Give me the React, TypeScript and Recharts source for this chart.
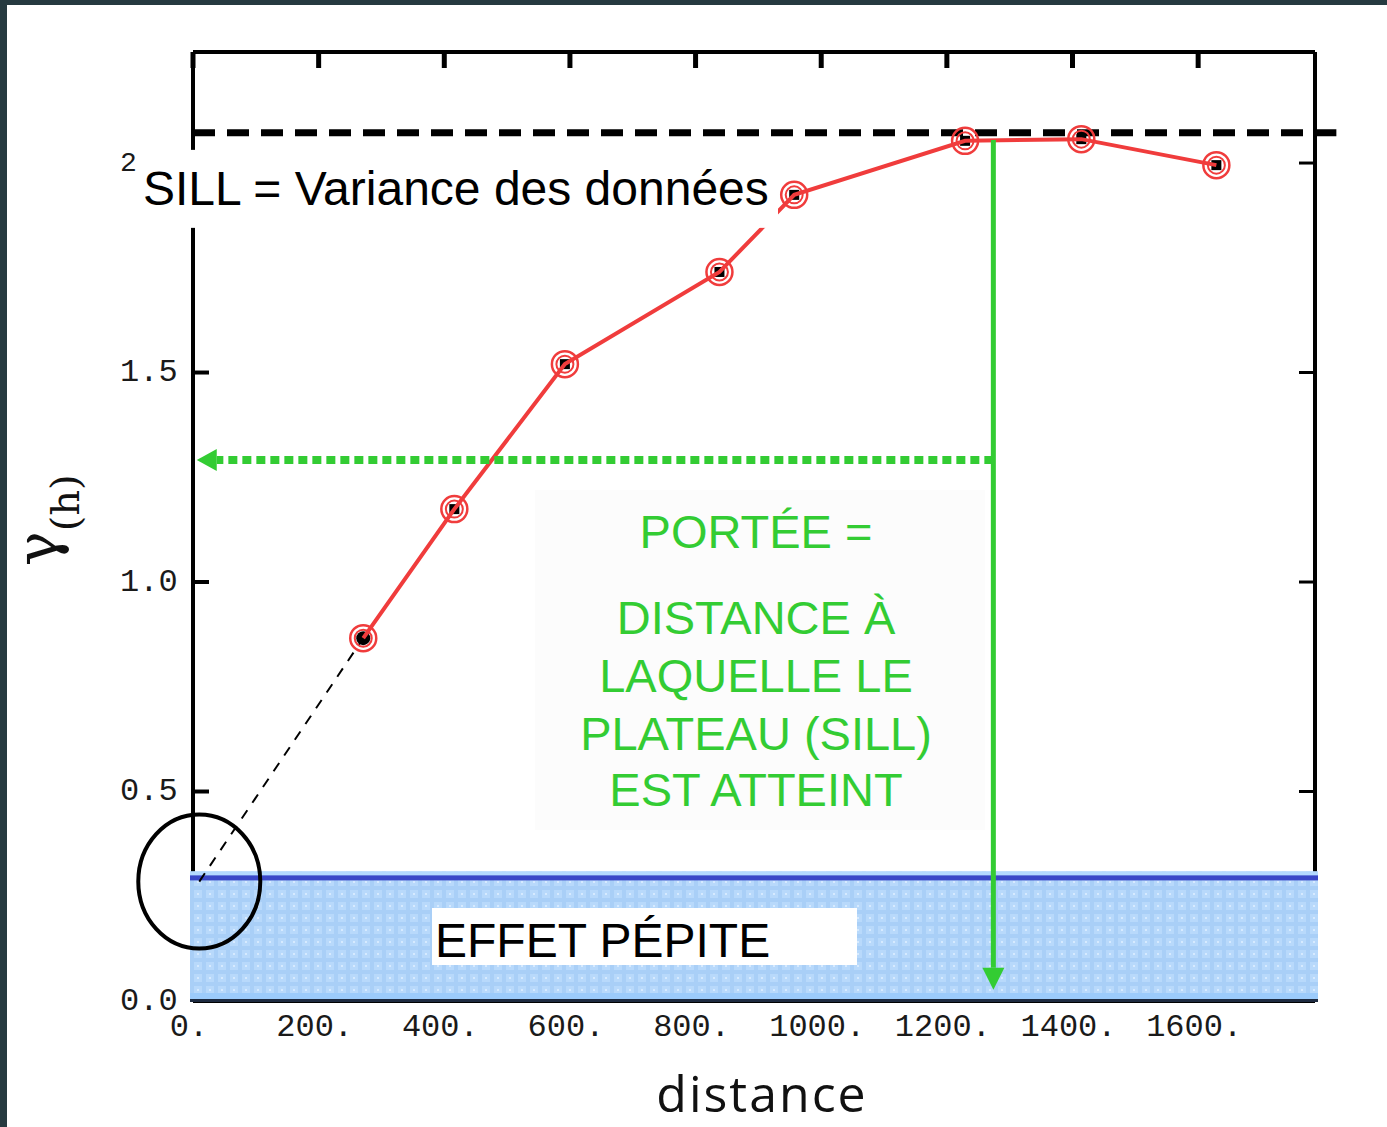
import {
  ComposedChart,
  Line,
  XAxis,
  YAxis,
  ReferenceLine,
  ReferenceArea,
  ReferenceDot,
} from "recharts";

const distances = [271, 416, 592, 838, 957, 1229, 1414, 1629];
const gammaValues = [0.866, 1.174, 1.52, 1.74, 1.924, 2.053, 2.057, 1.995];
const xTicks = [0, 200, 400, 600, 800, 1000, 1200, 1400, 1600];
const yTicks = [0, 0.5, 1, 1.5, 2];

const NUGGET = 0.295; // top of the blue band
const NUGGET_POINT = { distance: 10, gamma: 0.285 };
const SILL = 2.072;
const RANGE = 1274;
const RANGE_ARROW = [2.055, 0.027]; // gamma at start and tip of the vertical arrow
const GUIDE_GAMMA = 1.291; // dotted horizontal arrow
const GUIDE_TIP = 6;
const X_MAX = 1786;
const Y_MAX = 2.265;

const points = distances.map((d, i) => ({ distance: d, gamma: gammaValues[i] }));
const nuggetLine = [NUGGET_POINT, points[0]];

const RED = "#f03c3c";
const GREEN = "#33cc33";
const MONO = "'Liberation Mono', 'DejaVu Sans Mono', monospace";
const SANS = "'Liberation Sans', Arial, sans-serif";
const TICK_IN = 16;

function XTick(props: any) {
  const { x, y, payload } = props;
  return (
    <text x={x - 4} y={y + 26} textAnchor="middle" dominantBaseline="central" fontFamily={MONO} fontSize={32} fill="#1a1a1a">
      {`${payload.value}.`}
    </text>
  );
}

// left labels are left-aligned, measured from the axis line
function YTick(props: any) {
  const { x, y, payload } = props;
  const v = payload.value;
  const label = v === 2 ? "2" : v.toFixed(1);
  return (
    <text x={x - 73} y={y} textAnchor="start" dominantBaseline="central" fontFamily={MONO} fontSize={v === 2 ? 28 : 32} fill="#1a1a1a">
      {label}
    </text>
  );
}

// tick marks only, no label
const NoLabel = () => <g />;

function SampleDot(props: any) {
  const { cx, cy, index } = props;
  if (cx == null || cy == null) return null;
  return (
    <g key={`dot-${index}`}>
      <circle cx={cx} cy={cy} r={13} fill="none" stroke={RED} strokeWidth={2.5} />
      <circle cx={cx} cy={cy} r={8.5} fill="none" stroke={RED} strokeWidth={2} />
      {index === 0 ? (
        <circle cx={cx} cy={cy} r={7} fill="#000" />
      ) : (
        <rect x={cx - 5} y={cy - 5} width={10} height={10} fill="#000" />
      )}
    </g>
  );
}

function ArrowLine(props: any) {
  const { x1, y1, x2, y2, color, width, dash, head, headW } = props;
  const dx = x2 - x1;
  const dy = y2 - y1;
  const len = Math.sqrt(dx * dx + dy * dy) || 1;
  const ux = dx / len;
  const uy = dy / len;
  const bx = x2 - ux * head;
  const by = y2 - uy * head;
  const px = -uy * headW;
  const py = ux * headW;
  return (
    <g>
      <line x1={x1} y1={y1} x2={bx} y2={by} stroke={color} strokeWidth={width} strokeDasharray={dash} />
      <polygon points={`${x2},${y2} ${bx + px},${by + py} ${bx - px},${by - py}`} fill={color} />
    </g>
  );
}

function NuggetBand(props: any) {
  const { x, y, width, height } = props;
  return (
    <g>
      <defs>
        <pattern id="pepite" width={12} height={12} patternUnits="userSpaceOnUse">
          <rect width={12} height={12} fill="#a9cff7" />
          <rect x={2} y={2} width={8} height={8} fill="#b8d9fb" />
          <rect x={5} y={5} width={2} height={2} fill="#d6eaff" />
        </pattern>
      </defs>
      <rect x={x - 3} y={y - 6} width={width + 6} height={height + 6} fill="url(#pepite)" />
      <rect x={x - 3} y={y - 6} width={width + 6} height={4} fill="#b4daff" />
      <rect x={x - 3} y={y - 2} width={width + 6} height={5} fill="#3a48c8" />
      <rect x={x - 3} y={y + height - 8} width={width + 6} height={6} fill="#9ccbfb" />
      <rect x={x - 3} y={y + height - 2} width={width + 6} height={3} fill="#1d2a40" />
    </g>
  );
}

function SillNote(props: any) {
  const { cx, cy } = props;
  return (
    <g>
      <rect x={cx - 58} y={cy + 17} width={643} height={78} fill="#fff" />
      <text x={cx - 50} y={cy + 72} fontFamily={SANS} fontSize={48} fill="#000">
        SILL = Variance des données
      </text>
    </g>
  );
}

function PepiteNote(props: any) {
  const { cx, cy } = props;
  return (
    <g>
      <rect x={cx + 239} y={cy - 93} width={425} height={57} fill="#fff" />
      <text x={cx + 242} y={cy - 44} fontFamily={SANS} fontSize={48} fill="#000">
        EFFET PÉPITE
      </text>
    </g>
  );
}

const rangeLines = ["PORTÉE =", "DISTANCE À", "LAQUELLE LE", "PLATEAU (SILL)", "EST ATTEINT"];
const rangeLineOffsets = [-453, -367, -309, -251, -195];

function RangeNote(props: any) {
  const { cx, cy } = props;
  return (
    <g>
      <rect x={cx + 342} y={cy - 511} width={450} height={340} fill="#fcfcfc" />
      {rangeLines.map((t, i) => (
        <text key={t} x={cx + 563} y={cy + rangeLineOffsets[i]} textAnchor="middle" fontFamily={SANS} fontSize={47} fill={GREEN}>
          {t}
        </text>
      ))}
    </g>
  );
}

function NuggetCircle(props: any) {
  const { cx, cy } = props;
  return <ellipse cx={cx} cy={cy} rx={61} ry={67} fill="none" stroke="#000" strokeWidth={4} />;
}

export default function App() {
  return (
    <div style={{ position: "absolute", left: 0, top: 0, width: 1387, height: 1127, background: "#263a40", overflow: "hidden" }}>
      <div style={{ position: "absolute", left: 7, top: 5, right: 0, bottom: 0, background: "#fff" }} />
      <div style={{ position: "absolute", left: 0, top: 0 }}>
        <ComposedChart width={1387} height={1127} margin={{ top: 52, right: 72, bottom: 86, left: 113 }}>
          <XAxis
            dataKey="distance"
            type="number"
            domain={[0, X_MAX]}
            ticks={xTicks}
            interval={0}
            allowDataOverflow
            height={40}
            tickSize={0}
            tickMargin={0}
            tickLine={false}
            axisLine={{ stroke: "#000", strokeWidth: 4 }}
            tick={<XTick />}
            label={{
              content: (p: any) => (
                <text x={p.viewBox.x + p.viewBox.width / 2 + 8} y={p.viewBox.y + 111} textAnchor="middle" fontFamily="'Open Sans', sans-serif" fontSize={50} letterSpacing={2} fill="#111">
                  distance
                </text>
              ),
            }}
          />
          <XAxis
            xAxisId="top"
            orientation="top"
            type="number"
            dataKey="distance"
            domain={[0, X_MAX]}
            ticks={xTicks}
            interval={0}
            allowDataOverflow
            mirror
            tick={NoLabel}
            tickSize={TICK_IN}
            tickLine={{ stroke: "#000", strokeWidth: 5 }}
            axisLine={{ stroke: "#000", strokeWidth: 4 }}
          />
          <YAxis
            type="number"
            domain={[0, Y_MAX]}
            ticks={yTicks}
            interval={0}
            allowDataOverflow
            width={80}
            tickSize={0}
            tickMargin={0}
            tickLine={false}
            axisLine={{ stroke: "#000", strokeWidth: 4 }}
            tick={<YTick />}
            label={{
              content: (p: any) => (
                <text transform={`translate(${p.viewBox.x + p.viewBox.width - 136}, 566) rotate(-90)`} fontFamily="'DejaVu Serif', serif" fill="#111">
                  <tspan fontSize={58}>γ</tspan>
                  <tspan fontSize={40} dy={22}>(h)</tspan>
                </text>
              ),
            }}
          />
          <YAxis
            yAxisId="leftTicks"
            orientation="left"
            type="number"
            domain={[0, Y_MAX]}
            ticks={yTicks}
            interval={0}
            allowDataOverflow
            mirror
            tick={NoLabel}
            tickSize={TICK_IN}
            tickLine={{ stroke: "#000", strokeWidth: 4 }}
            axisLine={false}
          />
          <YAxis
            yAxisId="right"
            orientation="right"
            type="number"
            domain={[0, Y_MAX]}
            ticks={yTicks}
            interval={0}
            allowDataOverflow
            mirror
            tick={NoLabel}
            tickSize={TICK_IN}
            tickLine={{ stroke: "#000", strokeWidth: 3 }}
            axisLine={{ stroke: "#000", strokeWidth: 4 }}
          />

          {/* carry no ink: they give the frame axes (top, right, inner left) their scales */}
          <Line
            data={points}
            dataKey="gamma"
            xAxisId="top"
            yAxisId="right"
            stroke="none"
            strokeWidth={0}
            dot={false}
            activeDot={false}
            legendType="none"
            isAnimationActive={false}
          />
          <Line
            data={points}
            dataKey="gamma"
            xAxisId="top"
            yAxisId="leftTicks"
            stroke="none"
            strokeWidth={0}
            dot={false}
            activeDot={false}
            legendType="none"
            isAnimationActive={false}
          />

          <ReferenceArea x1={0} x2={X_MAX} y1={0} y2={NUGGET} ifOverflow="visible" shape={<NuggetBand />} zIndex={550} />

          <ReferenceLine
            segment={[{ x: 0, y: SILL }, { x: 1820, y: SILL }]}
            ifOverflow="visible"
            stroke="#000"
            strokeWidth={7}
            strokeDasharray="22 12"
            zIndex={560}
          />

          <Line
            data={nuggetLine}
            dataKey="gamma"
            type="linear"
            stroke="#000"
            strokeWidth={2}
            strokeDasharray="10 9"
            dot={false}
            isAnimationActive={false}
            zIndex={600}
          />
          <Line
            data={points}
            dataKey="gamma"
            type="linear"
            stroke={RED}
            strokeWidth={4}
            dot={<SampleDot />}
            activeDot={false}
            isAnimationActive={false}
            zIndex={600}
          />

          <ReferenceDot x={0} y={0} r={0} ifOverflow="visible" shape={<RangeNote />} zIndex={590} />

          <ReferenceLine
            segment={[{ x: RANGE, y: GUIDE_GAMMA }, { x: GUIDE_TIP, y: GUIDE_GAMMA }]}
            ifOverflow="visible"
            shape={(p: any) => <ArrowLine {...p} color={GREEN} width={8} dash="9 5" head={20} headW={11} />}
            zIndex={650}
          />
          <ReferenceLine
            segment={[{ x: RANGE, y: RANGE_ARROW[0] }, { x: RANGE, y: RANGE_ARROW[1] }]}
            ifOverflow="visible"
            shape={(p: any) => <ArrowLine {...p} color={GREEN} width={5} head={22} headW={11} />}
            zIndex={660}
          />

          <ReferenceDot x={0} y={SILL} r={0} ifOverflow="visible" shape={<SillNote />} zIndex={700} />
          <ReferenceDot x={0} y={0} r={0} ifOverflow="visible" shape={<PepiteNote />} zIndex={590} />
          <ReferenceDot x={NUGGET_POINT.distance} y={NUGGET_POINT.gamma} r={0} ifOverflow="visible" shape={<NuggetCircle />} zIndex={700} />
        </ComposedChart>
      </div>
    </div>
  );
}
